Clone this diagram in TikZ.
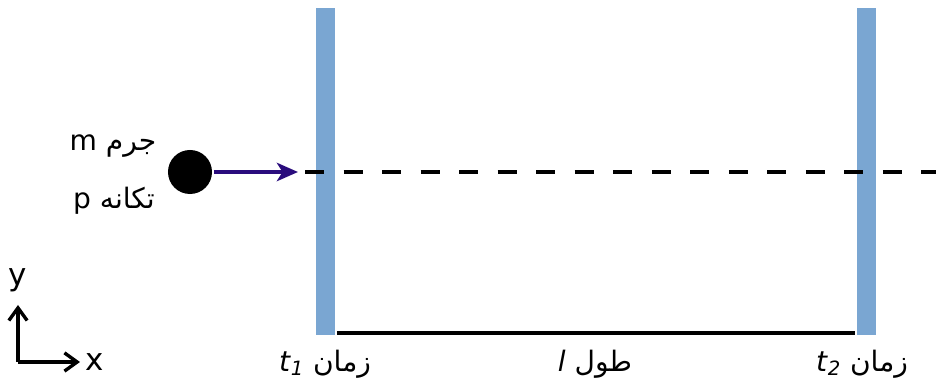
\documentclass[tikz,border=0pt]{standalone}
\usepackage{fontspec}
\setmainfont{DejaVu Sans}
\newfontfamily\arabicfont[Script=Arabic]{DejaVu Sans}
\TeXXeTstate=1
\usetikzlibrary{arrows.meta}

\definecolor{wallblue}{RGB}{122,166,210}
\definecolor{momentum}{RGB}{42,12,125}

\begin{document}
\begin{tikzpicture}[x=0.025cm,y=-0.025cm,line width=2.6pt,>=Stealth,
  wall/.style={fill=wallblue,draw=none,inner sep=0pt,minimum width=0.475cm,minimum height=8.175cm},
  lab/.style={font=\fontsize{20}{24}\selectfont,inner sep=0pt},
  axlab/.style={font=\fontsize{22}{26}\selectfont,inner sep=0pt}]
\useasboundingbox (0,0) rectangle (936,385);
% ---------- walls and length ----------
\node[wall] (wall1) at (325.5,171.5) {};
\node[wall] (wall2) at (866,171.5) {};
\coordinate (base) at (0,333);
\draw (wall1.east |- base) -- (wall2.west |- base);
% ---------- particle ----------
\node[circle,fill=black,inner sep=0pt,minimum size=1.1cm] (ball) at (190,172) {};
\coordinate (tip) at (298,172);
\draw[-{Stealth[length=15pt,width=13pt,inset=4pt]},momentum,line width=3pt] (ball.east) -- (tip);
\coordinate (dstart) at (305,172);
\coordinate (dend) at (936,172);
\draw[dash pattern=on 13.5pt off 13.9pt,line width=3pt] (dstart) -- (dend);
\node[lab] (mass) at (113,146) {\arabicfont\beginR جرم \beginL m\endL\endR};
\node[lab] (mom) at (114,201) {\arabicfont\beginR تکانه \beginL p\endL\endR};
% ---------- axes ----------
\coordinate (O) at (18,362);
\coordinate (ytip) at (18,305);
\coordinate (xtip) at (80,362);
\draw[-{Straight Barb[length=9pt,width=13pt]},line width=2.4pt] (O) -- (ytip);
\draw[-{Straight Barb[length=9pt,width=13pt]},line width=2.4pt] (O) -- (xtip);
\node[axlab] (ylab) at (18,280) {y};
\node[axlab] (xlab) at (95,362) {x};
% ---------- labels ----------
\node[lab] (t1lab) at (325,364) {\arabicfont\beginR زمان \beginL\textit{t}\textsubscript{\textit{1}}\endL\endR};
\node[lab] (len) at (595,364) {\arabicfont\beginR طول \beginL\textit{l}\endL\endR};
\node[lab] (t2lab) at (862,364) {\arabicfont\beginR زمان \beginL\textit{t}\textsubscript{\textit{2}}\endL\endR};
\end{tikzpicture}
\end{document}
